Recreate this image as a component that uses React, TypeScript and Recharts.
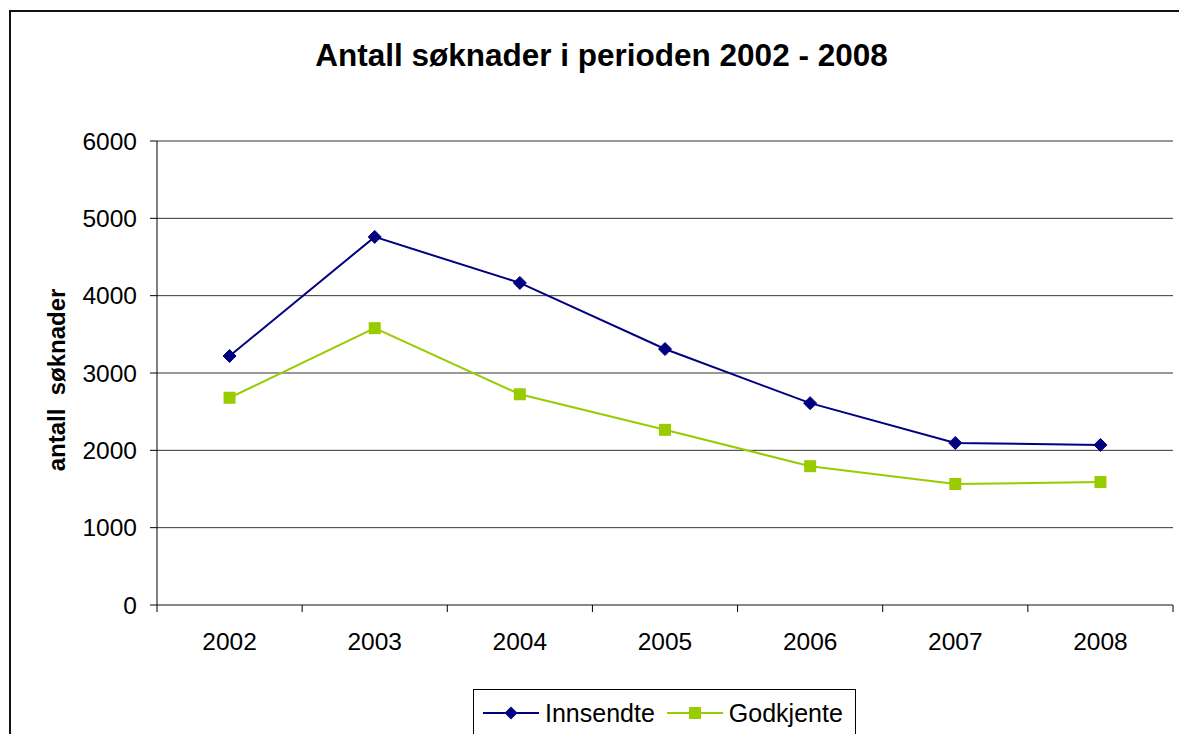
import React from 'react';
import { LineChart, Line, XAxis, YAxis, CartesianGrid } from 'recharts';

const years = ['2002', '2003', '2004', '2005', '2006', '2007', '2008'];
const innsendte = [3220, 4760, 4165, 3310, 2610, 2095, 2070];
const godkjente = [2680, 3580, 2725, 2265, 1795, 1565, 1590];
const yTicks = [0, 1000, 2000, 3000, 4000, 5000, 6000];

// each year sits in the middle of its slot, slot edges get the small tick marks
const data = years.map((year, i) => ({
  pos: i + 0.5,
  year,
  innsendte: innsendte[i],
  godkjente: godkjente[i],
}));
const xTicks = years.flatMap((_, i) => [i, i + 0.5]).concat([years.length]);

const NAVY = '#000080';
const GREEN = '#99CC00';
const FONT = '"Liberation Sans", Arial, sans-serif';

const Diamond = (props: any) => {
  const { cx, cy } = props;
  if (cx == null || cy == null) return null;
  const r = 6.5;
  return (
    <polygon
      points={`${cx},${cy - r} ${cx + r},${cy} ${cx},${cy + r} ${cx - r},${cy}`}
      fill={NAVY}
      stroke={NAVY}
    />
  );
};

const Square = (props: any) => {
  const { cx, cy } = props;
  if (cx == null || cy == null) return null;
  const s = 12;
  return <rect x={cx - s / 2} y={cy - s / 2} width={s} height={s} fill={GREEN} />;
};

const YearTick = (props: any) => {
  const { x, y, payload } = props;
  const v = payload.value as number;
  if (Number.isInteger(v)) {
    return <line x1={x} y1={y} x2={x} y2={y + 7} stroke="#000" strokeWidth={1} />;
  }
  const label = years[Math.floor(v)];
  return (
    <text x={x} y={y + 28} dy="0.71em" textAnchor="middle" fill="#000" fontSize={24.5} fontFamily={FONT}>
      {label}
    </text>
  );
};

const LegendBox = () => (
  <div
    style={{
      position: 'absolute',
      left: 473,
      top: 689,
      border: '1px solid #000',
      width: 383,
      height: 60,
      boxSizing: 'border-box',
      display: 'flex',
      alignItems: 'flex-start',
      paddingTop: 8,
      paddingLeft: 9,
      fontFamily: FONT,
      fontSize: 25,
      color: '#000',
      background: '#fff',
    }}
  >
    <svg width={56} height={30} style={{ marginRight: 6 }}>
      <line x1={0} y1={15} x2={56} y2={15} stroke={NAVY} strokeWidth={2} />
      <polygon points="28,8.5 34.5,15 28,21.5 21.5,15" fill={NAVY} />
    </svg>
    <span style={{ lineHeight: '30px', marginRight: 12 }}>Innsendte</span>
    <svg width={56} height={30} style={{ marginRight: 6 }}>
      <line x1={0} y1={15} x2={56} y2={15} stroke={GREEN} strokeWidth={2} />
      <rect x={22} y={9} width={12} height={12} fill={GREEN} />
    </svg>
    <span style={{ lineHeight: '30px' }}>Godkjente</span>
  </div>
);

export default function App() {
  return (
    <div
      style={{
        position: 'fixed',
        left: 0,
        top: 0,
        width: 1179,
        height: 734,
        overflow: 'hidden',
        background: '#fff',
      }}
    >
      {/* outer frame, runs off the right and bottom edge */}
      <div
        style={{
          position: 'absolute',
          left: 9,
          top: 10,
          width: 1300,
          height: 900,
          border: '2px solid #111',
        }}
      />
      <div
        style={{
          position: 'absolute',
          left: 0,
          width: 1203,
          top: 36,
          textAlign: 'center',
          fontFamily: FONT,
          fontWeight: 'bold',
          fontSize: 31.5,
          lineHeight: '38px',
        }}
      >
        Antall søknader i perioden 2002 - 2008
      </div>
      <div
        style={{
          position: 'absolute',
          left: 57,
          top: 380,
          transform: 'translate(-50%, -50%) rotate(-90deg)',
          whiteSpace: 'nowrap',
          fontFamily: FONT,
          fontWeight: 'bold',
          fontSize: 24,
        }}
      >
        antall&nbsp; søknader
      </div>
      <div style={{ position: 'absolute', left: 0, top: 0 }}>
        <LineChart
          width={1179}
          height={734}
          data={data}
          margin={{ top: 141, right: 6, bottom: 69, left: 0 }}
        >
          <CartesianGrid horizontal vertical={false} stroke="#333" strokeWidth={1} />
          <XAxis
            dataKey="pos"
            type="number"
            domain={[0, years.length]}
            ticks={xTicks}
            interval={0}
            allowDataOverflow
            tickLine={false}
            tickSize={0}
            tickMargin={0}
            axisLine={{ stroke: '#777' }}
            tick={<YearTick />}
            height={60}
          />
          <YAxis
            domain={[0, 6000]}
            ticks={yTicks}
            width={157}
            tickSize={7}
            tickMargin={13}
            tickLine={{ stroke: '#000' }}
            axisLine={{ stroke: '#000' }}
            tick={{ fill: '#000', fontSize: 24.5, fontFamily: FONT }}
          />
          <Line
            type="linear"
            dataKey="innsendte"
            stroke={NAVY}
            strokeWidth={2}
            dot={<Diamond />}
            activeDot={false}
            isAnimationActive={false}
          />
          <Line
            type="linear"
            dataKey="godkjente"
            stroke={GREEN}
            strokeWidth={2}
            dot={<Square />}
            activeDot={false}
            isAnimationActive={false}
          />
        </LineChart>
      </div>
      <LegendBox />
    </div>
  );
}
